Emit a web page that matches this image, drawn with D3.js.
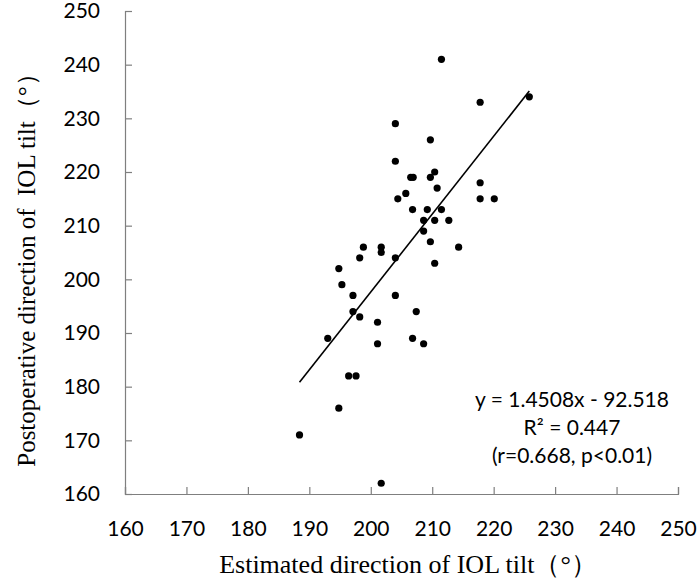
<!DOCTYPE html>
<html>
<head>
<meta charset="utf-8">
<script src="https://cdn.jsdelivr.net/npm/d3@7"></script>
<style>
  body { margin: 0; background: #fff; }
</style>
</head>
<body>
<svg id="chart" width="700" height="579"></svg>
<script>
// estimated direction of IOL tilt (x) vs postoperative direction (y)
var estimated = [211.5, 225.8, 217.8, 204.0, 209.7, 204.0, 206.5, 206.9, 209.7, 210.4,
                 217.8, 205.7, 210.8, 204.4, 217.8, 220.1, 206.8, 209.2, 211.5, 208.6,
                 210.4, 212.7, 208.6, 209.7, 214.3, 198.8, 201.7, 201.7, 198.2, 204.0,
                 210.4, 194.8, 195.3, 197.1, 204.0, 197.1, 207.4, 198.2, 201.1, 193.0,
                 206.8, 201.1, 208.6, 196.4, 197.6, 194.8, 188.4, 201.7];
var postop = [241, 234, 233, 229, 226, 222, 219, 219, 219, 220,
              218, 216, 217, 215, 215, 215, 213, 213, 213, 211,
              211, 211, 209, 207, 206, 206, 206, 205, 204, 204,
              203, 202, 199, 197, 197, 194, 194, 193, 192, 189,
              189, 188, 188, 182, 182, 176, 171, 162];
var tickValues = [160, 170, 180, 190, 200, 210, 220, 230, 240, 250];
var slope = 1.4508, intercept = -92.518;
var annotation = ["y = 1.4508x - 92.518", "R\u00b2 = 0.447", "(r=0.668, p<0.01)"];

var svg = d3.select("#chart");

var x = d3.scaleLinear().domain([160, 250]).range([125, 678]);
var y = d3.scaleLinear().domain([160, 250]).range([494, 11]);

var tickFont = "Lato, 'Open Sans', sans-serif";
var titleFont = "'Liberation Serif', 'Times New Roman', serif";

var xAxis = svg.append("g")
    .attr("transform", "translate(0,494)")
    .call(d3.axisBottom(x).tickValues(tickValues).tickSizeInner(-7).tickSizeOuter(-7).tickPadding(27));
var yAxis = svg.append("g")
    .attr("transform", "translate(125,0)")
    .call(d3.axisLeft(y).tickValues(tickValues).tickSizeInner(-7).tickSizeOuter(-7).tickPadding(25));

[xAxis, yAxis].forEach(function(a) {
  a.selectAll("path").attr("stroke", "#7f7f7f").attr("stroke-width", 1.2);
  a.selectAll("line").attr("stroke", "#7f7f7f").attr("stroke-width", 1.2);
  a.selectAll("text")
    .attr("fill", "#000")
    .style("font-family", tickFont)
    .style("font-size", "21px");
});

// regression line over the data range
var xr = d3.extent(estimated);
svg.append("line")
    .attr("x1", x(xr[0])).attr("y1", y(slope * xr[0] + intercept))
    .attr("x2", x(xr[1])).attr("y2", y(slope * xr[1] + intercept))
    .attr("stroke", "#000")
    .attr("stroke-width", 1.6);

svg.append("g").selectAll("circle")
    .data(estimated)
    .enter().append("circle")
    .attr("cx", function(d) { return x(d); })
    .attr("cy", function(d, i) { return y(postop[i]); })
    .attr("r", 3.6)
    .attr("fill", "#000");

var note = svg.append("g");
note.selectAll("text")
    .data(annotation)
    .enter().append("text")
    .text(function(d) { return d; })
    .attr("x", 572)
    .attr("y", function(d, i) { return 407 + i * 28; })
    .attr("text-anchor", "middle")
    .style("font-family", tickFont)
    .style("font-size", "21px")
    .attr("fill", "#000");

svg.append("text")
    .text("Estimated direction of IOL tilt\uff08\u00b0\uff09")
    .attr("x", 408)
    .attr("y", 573)
    .attr("text-anchor", "middle")
    .style("font-family", titleFont)
    .style("font-size", "26px")
    .attr("fill", "#000");

svg.append("text")
    .text("Postoperative direction of  IOL tilt\uff08\u00b0\uff09")
    .attr("transform", "translate(35,264) rotate(-90)")
    .attr("text-anchor", "middle")
    .style("font-family", titleFont)
    .style("font-size", "25px")
    .style("white-space", "pre")
    .attr("fill", "#000");
</script>
</body>
</html>
